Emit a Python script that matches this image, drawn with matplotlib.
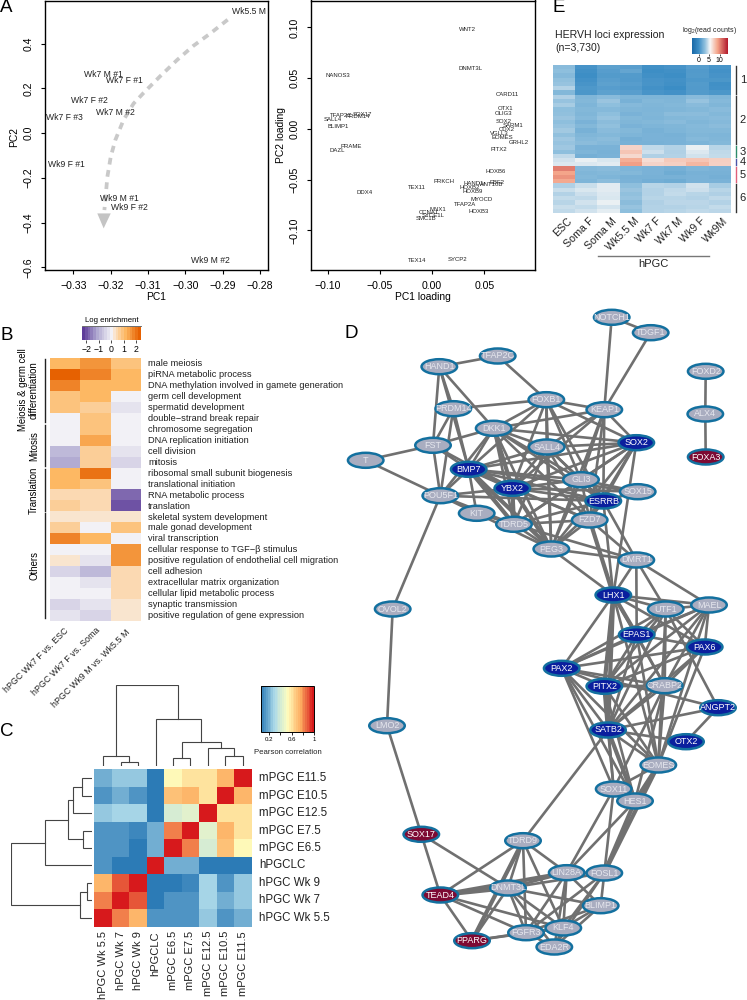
# figure panels: PCA, GO enrichment, correlation heatmap, gene network, HERVH heatmap
from itertools import combinations

import matplotlib
matplotlib.use('Agg')
import matplotlib.pyplot as plt
import numpy as np
from matplotlib.cm import ScalarMappable
from matplotlib.colors import LinearSegmentedColormap, Normalize
from matplotlib.patches import Ellipse, Polygon

plt.rcParams['font.family'] = ['Liberation Sans', 'DejaVu Sans']
plt.rcParams['mathtext.default'] = 'regular'

W, H = 747, 1000

# panel A left
pca_labels = ['Wk5.5 M', 'Wk7 M #1', 'Wk7 F #1', 'Wk7 F #2', 'Wk7 M #2', 'Wk7 F #3',
              'Wk9 F #1', 'Wk9 M #1', 'Wk9 F #2', 'Wk9 M #2']
pca_pc1 = [-0.2829, -0.3219, -0.3163, -0.3257, -0.3188, -0.3324, -0.3320, -0.3177, -0.3151, -0.2933]
pca_pc2 = [0.546, 0.260, 0.236, 0.144, 0.093, 0.070, -0.142, -0.292, -0.331, -0.570]
trend_x = [-0.2887, -0.2934, -0.2979, -0.3023, -0.3068, -0.3112, -0.3139, -0.3166, -0.3188,
           -0.3200, -0.3209, -0.3213, -0.3217]
trend_y = [0.507, 0.445, 0.390, 0.326, 0.254, 0.180, 0.132, 0.058, -0.032, -0.106, -0.195,
           -0.270, -0.344]
head_x = [-0.3236, -0.3200, -0.3219]
head_y = [-0.359, -0.359, -0.426]

# panel A right
load_genes = ['WNT2', 'DNMT3L', 'NANOS3', 'CARD11', 'OTX1', 'OLIG3', 'SOX2', 'SOX17', 'TFAP2C',
              'PRDM14', 'SALL4', 'BLIMP1', 'PRAME', 'DAZL', 'SARM1', 'CDX2', 'VGLL3', 'EOMES',
              'GRHL2', 'PITX2', 'HOXB6', 'EBF2', 'WNT10B', 'HAND1', 'HOXB2', 'HOXB9', 'PRKCH',
              'TEX11', 'DDX4', 'MYOCD', 'TFAP2A', 'HOXB3', 'MNX1', 'CCNA1', 'SYCE1L', 'SMC1B',
              'TEX14', 'SYCP2']
load_pc1 = [0.034, 0.0366, -0.0905, 0.0716, 0.0707, 0.068, 0.0682, -0.0671, -0.0868,
            -0.0708, -0.0947, -0.0899, -0.0775, -0.0912, 0.0777, 0.0712, 0.0643, 0.0675,
            0.0828, 0.064, 0.0608, 0.0624, 0.0563, 0.04, 0.0362, 0.0385, 0.0113,
            -0.0146, -0.0646, 0.0471, 0.0314, 0.0442, 0.0059, -0.0034, 0.001, -0.0062,
            -0.014, 0.0241]
load_pc2 = [0.0977, 0.0597, 0.0531, 0.0344, 0.02, 0.0157, 0.0069, 0.0144, 0.0134,
            0.0118, 0.0098, 0.0023, -0.0174, -0.0216, 0.003, -0.0003, -0.0046, -0.0085,
            -0.0134, -0.02, -0.0423, -0.0525, -0.0551, -0.0541, -0.058, -0.0616, -0.0521,
            -0.0574, -0.0623, -0.0695, -0.0744, -0.0813, -0.0797, -0.0823, -0.0856, -0.0879,
            -0.1298, -0.1289]

# panel B
go_terms = ['male meiosis', 'piRNA metabolic process', 'DNA methylation involved in gamete generation',
            'germ cell development', 'spermatid development', 'double\u2212strand break repair',
            'chromosome segregation', 'DNA replication initiation', 'cell division', 'mitosis',
            'ribosomal small subunit biogenesis', 'translational initiation', 'RNA metabolic process',
            'translation', 'skeletal system development', 'male gonad development', 'viral transcription',
            'cellular response to TGF\u2212\u03b2 stimulus', 'positive regulation of endothelial cell migration',
            'cell adhesion', 'extracellular matrix organization', 'cellular lipid metabolic process',
            'synaptic transmission', 'positive regulation of gene expression']
go_cols = ['hPGC Wk7 F vs. ESC', 'hPGC Wk7 F vs. Soma', 'hPGC Wk9 M vs. Wk5.5 M']
go_wk7_esc = [1.2, 2.2, 1.9, 0.9, 0.9, -0.1, -0.1, -0.1, -0.9, -1.1, 1.2, 1.2, 0.4, 0.7, 0.3, 0.7,
              1.7, -0.1, 0.3, -0.5, -0.1, -0.1, -0.5, -0.3]
go_wk7_soma = [1.5, 1.9, 1.2, 1.2, 0.6, 0.9, 0.9, 1.4, 0.7, 0.7, 2.0, 1.0, 0.4, 0.4, 0.3, 0.1,
               1.2, -0.1, -0.3, -1.0, -0.3, -0.1, -0.3, -0.5]
go_wk9_wk5 = [0.9, 1.2, 1.2, 0.1, -0.3, -0.1, -0.1, -0.1, -0.3, -0.5, -0.1, -0.1, -1.7, -2.1, 0.3,
              1.0, -0.1, 1.5, 1.5, 0.4, 0.4, 0.4, 0.2, 0.2]

# panel C
corr_cols = ['hPGC Wk 5.5', 'hPGC Wk 7', 'hPGC Wk 9', 'hPGCLC', 'mPGC E6.5', 'mPGC E7.5',
             'mPGC E12.5', 'mPGC E10.5', 'mPGC E11.5']
corr_rows = ['mPGC E11.5', 'mPGC E10.5', 'mPGC E12.5', 'mPGC E7.5', 'mPGC E6.5', 'hPGCLC',
             'hPGC Wk 9', 'hPGC Wk 7', 'hPGC Wk 5.5']
corr_vals = [[0.205, 0.257, 0.257, 0.05, 0.54, 0.60, 0.60, 0.74, 1.00],
             [0.145, 0.205, 0.145, 0.05, 0.70, 0.74, 0.60, 1.00, 0.74],
             [0.257, 0.30, 0.30, 0.05, 0.40, 0.45, 1.00, 0.60, 0.60],
             [0.145, 0.145, 0.11, 0.205, 0.81, 1.00, 0.45, 0.74, 0.60],
             [0.145, 0.145, 0.05, 0.205, 1.00, 0.81, 0.40, 0.70, 0.54],
             [0.145, 0.05, 0.05, 1.00, 0.205, 0.205, 0.05, 0.05, 0.05],
             [0.74, 0.895, 1.00, 0.05, 0.05, 0.11, 0.30, 0.145, 0.257],
             [0.81, 1.00, 0.895, 0.05, 0.145, 0.145, 0.30, 0.205, 0.257],
             [1.00, 0.81, 0.74, 0.145, 0.145, 0.145, 0.257, 0.145, 0.205]]
# merges: child a, child b, height (child index >= 9 is an earlier merge)
col_merges = [(1, 2, 0.053), (0, 9, 0.128), (4, 5, 0.099), (7, 8, 0.128), (6, 12, 0.218),
              (11, 13, 0.30), (3, 14, 0.576), (10, 15, 1.0)]
row_merges = [(0, 1, 0.123), (2, 9, 0.226), (3, 4, 0.111), (10, 11, 0.296), (5, 12, 0.576),
              (6, 7, 0.053), (8, 14, 0.14), (13, 15, 1.0)]

# panel D
node_names = ['NOTCH1', 'TDGF1', 'TFAP2C', 'HAND1', 'FOXD2', 'ALX4', 'FOXA3', 'FOXB1', 'KEAP1', 'PRDM14',
              'DKK1', 'SOX2', 'SALL4', 'FST', 'T', 'BMP7', 'GLI3', 'YBX2', 'SOX15', 'POU5F1',
              'ESRRB', 'KIT', 'TDRD5', 'FZD7', 'PEG3', 'DMRT1', 'LHX1', 'OVOL2', 'UTF1', 'MAEL',
              'EPAS1', 'PAX6', 'PAX2', 'PITX2', 'CRABP2', 'ANGPT2', 'LMO2', 'SATB2', 'OTX2', 'EOMES',
              'SOX11', 'HES1', 'SOX17', 'TDRD9', 'LIN28A', 'FOSL1', 'DNMT3L', 'TEAD4', 'BLIMP1', 'KLF4',
              'FGFR3', 'PPARG', 'EDA2R']
node_x = [611.7, 650.7, 497.7, 439.3, 705.7, 705.3, 705.7, 546.3, 604.3, 453.3,
          493.7, 636.3, 546.7, 433, 365.7, 468.7, 581, 512.3, 637.7, 440.3,
          603.3, 476.7, 514, 589.7, 551.3, 636.3, 613.3, 392.7, 665.7, 709,
          636.7, 704.7, 561.7, 604.3, 664.7, 718, 387, 608, 686, 658.3,
          613.7, 635, 421.3, 523, 566.7, 604.3, 508, 440.3, 600.7, 563.3,
          526, 472, 554.3]
node_y = [317.3, 332.7, 356, 366.7, 371.3, 414, 457, 399.7, 409.7, 408.7,
          428.3, 442.7, 447, 445.3, 460.3, 469.3, 479.7, 488.3, 491.7, 495.7,
          501, 513.3, 524.3, 520, 549, 560, 595, 609, 609, 605,
          634.7, 647, 668.3, 686.3, 685.7, 707.7, 725.7, 730, 741.7, 765,
          789, 801, 834.3, 840.7, 872.7, 873, 888, 895, 905.7, 928,
          932.7, 940.7, 947]
blue_nodes = ['BMP7', 'YBX2', 'SOX2', 'ESRRB', 'LHX1', 'EPAS1', 'PAX6', 'PAX2', 'PITX2', 'ANGPT2', 'SATB2', 'OTX2']
red_nodes = ['FOXA3', 'SOX17', 'TEAD4', 'PPARG']
upper_core = ['DKK1', 'SALL4', 'SOX2', 'BMP7', 'GLI3', 'YBX2', 'ESRRB', 'FZD7', 'TDRD5', 'PEG3']
middle_core = ['LHX1', 'EPAS1', 'PAX2', 'PITX2', 'CRABP2', 'SATB2', 'PAX6', 'UTF1', 'MAEL', 'EOMES']
lower_core = ['DNMT3L', 'LIN28A', 'FOSL1', 'BLIMP1', 'KLF4', 'FGFR3', 'EDA2R']
edge_text = """NOTCH1-TDGF1 NOTCH1-KEAP1 TDGF1-KEAP1 HAND1-TFAP2C TFAP2C-FOXB1 HAND1-PRDM14 HAND1-FST HAND1-DKK1
HAND1-BMP7 PRDM14-FOXB1 PRDM14-FST PRDM14-BMP7 PRDM14-POU5F1 FST-T T-POU5F1 FST-BMP7 FST-DKK1 FST-POU5F1
FST-YBX2 POU5F1-OVOL2 OVOL2-LMO2 LMO2-SOX17 SOX17-TEAD4 SOX17-DNMT3L FOXD2-ALX4 ALX4-FOXA3
FOXB1-KEAP1 FOXB1-SALL4 FOXB1-GLI3 FOXB1-BMP7 FOXB1-YBX2 FOXB1-ESRRB FOXB1-PEG3 FOXB1-SOX2 FOXB1-DKK1
KEAP1-DKK1 KEAP1-SOX2 KEAP1-GLI3 KEAP1-ESRRB KEAP1-YBX2 KEAP1-SALL4 KEAP1-FZD7 KEAP1-PEG3
POU5F1-BMP7 POU5F1-YBX2 POU5F1-KIT POU5F1-DKK1 POU5F1-ESRRB POU5F1-TDRD5 KIT-TDRD5 KIT-BMP7 KIT-PEG3
SOX15-ESRRB SOX15-BMP7 SOX15-YBX2 SOX15-GLI3 SOX2-LHX1 ESRRB-DMRT1 ESRRB-LHX1 PEG3-LHX1 PEG3-DMRT1
DMRT1-LHX1 TDRD5-DMRT1 FZD7-DMRT1 DMRT1-UTF1 DMRT1-MAEL DMRT1-EPAS1 ANGPT2-PAX2 ANGPT2-SATB2 ANGPT2-OTX2
ANGPT2-UTF1 OTX2-SATB2 CRABP2-SOX11 CRABP2-HES1 SATB2-SOX11 PAX2-SOX11 PAX2-HES1 PITX2-SOX11 PITX2-HES1
EOMES-SOX11 SOX11-LIN28A SOX11-FOSL1 SOX11-HES1 HES1-LIN28A SATB2-TDRD9 TDRD9-TEAD4 TDRD9-DNMT3L
TDRD9-LIN28A TDRD9-FGFR3 TDRD9-KLF4 TEAD4-FGFR3 TEAD4-KLF4 TEAD4-PPARG PPARG-DNMT3L PPARG-FGFR3 PPARG-KLF4"""
thick_text = """FZD7-LHX1 SATB2-HES1 PITX2-SATB2 EOMES-HES1 EOMES-FOSL1 HES1-FOSL1 TDRD9-PPARG TEAD4-DNMT3L
TEAD4-LIN28A YBX2-TDRD5 YBX2-PEG3 BMP7-PEG3 BMP7-TDRD5 DKK1-YBX2 LHX1-SATB2 LHX1-EPAS1 PITX2-LHX1 BMP7-YBX2"""

# panel E
ervh_cols = ['ESC', 'Soma F', 'Soma M', 'Wk5.5 M', 'Wk7 F', 'Wk7 M', 'Wk9 F', 'Wk9M']
ervh_vals = [[2.8, 0.4, 1.2, 1.1, 0.2, 0.4, 1.0, 0.5],
             [3.0, 0.2, 1.0, 1.5, 0.1, 0.2, 0.8, 0.3],
             [2.7, 0.1, 0.9, 0.9, 0.2, 0.1, 0.9, 0.4],
             [3.1, 0.3, 1.1, 0.8, 0.4, 0.3, 0.7, 0.6],
             [3.2, 0.5, 1.2, 1.0, 0.5, 0.2, 0.9, 0.2],
             [3.9, 0.7, 1.0, 0.8, 0.3, 0.0, 0.8, 0.3],
             [2.6, 0.6, 1.2, 1.1, 0.5, 0.3, 0.9, 0.6],
             [3.8, 2.5, 2.8, 2.4, 2.4, 2.4, 2.8, 2.5],
             [3.2, 2.6, 3.3, 2.2, 2.6, 2.5, 3.2, 2.7],
             [3.6, 2.4, 3.0, 2.7, 2.5, 2.6, 2.8, 2.5],
             [3.0, 2.6, 2.7, 2.5, 2.4, 2.5, 2.6, 2.8],
             [3.1, 2.5, 3.0, 2.3, 2.5, 2.9, 2.9, 2.6],
             [3.3, 2.7, 3.2, 2.6, 2.4, 2.6, 2.7, 2.8],
             [3.0, 2.3, 2.9, 2.5, 2.6, 2.8, 2.5, 2.7],
             [3.2, 2.6, 3.1, 2.3, 2.4, 2.5, 2.7, 2.9],
             [3.5, 2.2, 2.8, 2.6, 2.2, 2.4, 2.6, 2.6],
             [3.1, 2.5, 2.6, 2.4, 2.3, 2.2, 2.5, 2.4],
             [3.4, 2.7, 2.9, 2.1, 2.3, 2.3, 2.7, 2.5],
             [3.2, 2.9, 2.7, 2.2, 2.2, 2.3, 2.4, 2.6],
             [3.4, 2.3, 2.3, 7.0, 4.2, 3.9, 5.2, 4.0],
             [3.0, 2.4, 2.2, 7.6, 4.5, 3.8, 4.9, 4.2],
             [4.2, 2.1, 2.3, 6.8, 3.8, 3.9, 4.6, 4.3],
             [4.6, 5.2, 4.8, 8.6, 6.6, 7.4, 7.6, 7.2],
             [4.9, 4.9, 5.0, 9.2, 7.0, 7.2, 8.2, 7.1],
             [10.4, 2.7, 2.8, 2.4, 2.3, 2.1, 2.4, 2.3],
             [9.0, 2.5, 2.6, 2.6, 2.3, 1.9, 2.2, 2.2],
             [9.6, 2.6, 2.4, 2.2, 2.2, 2.2, 2.3, 2.1],
             [8.8, 2.4, 2.9, 2.3, 2.0, 1.9, 2.3, 2.3],
             [3.8, 4.4, 5.0, 3.0, 4.0, 3.9, 4.6, 3.6],
             [4.4, 4.8, 5.0, 3.3, 3.9, 4.2, 4.5, 4.0],
             [3.9, 4.5, 4.9, 3.1, 3.9, 4.3, 4.0, 3.8],
             [4.3, 4.2, 4.8, 3.2, 4.0, 4.0, 3.9, 4.2],
             [4.0, 4.6, 5.2, 2.9, 3.8, 4.1, 4.1, 3.9],
             [4.4, 4.3, 4.7, 3.2, 3.9, 3.9, 4.0, 4.3],
             [4.2, 4.6, 5.1, 3.0, 3.9, 4.0, 4.2, 4.1]]
ervh_groups = ['1', '2', '3', '4', '5', '6']
ervh_sizes = [7, 12, 3, 2, 4, 7]
ervh_bar_colors = ['#333333', '#333333', '#2e8b6a', '#4a55a8', '#e0607a', '#333333']


def ax_px(left, top, right, bottom):
    return fig.add_axes([left / W, 1 - bottom / H, (right - left) / W, (bottom - top) / H])


def r_style(ax):
    for s in ax.spines.values():
        s.set_linewidth(1.0)
    ax.tick_params(length=3, width=0.8, labelsize=7.6, pad=5)
    for lab in ax.get_yticklabels():
        lab.set_rotation(90)
        lab.set_va('center')


def draw_dendro(ax, merges, n, vertical):
    pos = [i + 0.5 for i in range(n)]
    hgt = [0.0] * n
    for a, b, h in merges:
        xs = [pos[a], pos[a], pos[b], pos[b]]
        ys = [hgt[a], h, h, hgt[b]]
        if vertical:
            ax.plot(xs, ys, color='#444444', lw=0.8, solid_joinstyle='miter')
        else:
            ax.plot(ys, xs, color='#444444', lw=0.8, solid_joinstyle='miter')
        pos.append((pos[a] + pos[b]) / 2)
        hgt.append(h)
    ax.axis('off')


fig = plt.figure(figsize=(W / 100, H / 100), dpi=100)

# overlay in pixel coordinates for free text and the network
pg = fig.add_axes([0, 0, 1, 1], zorder=5)
pg.set_xlim(0, W)
pg.set_ylim(H, 0)
pg.axis('off')
pg.patch.set_alpha(0)

for lab, x, y in [('A', 0, 8), ('B', 0, 335), ('C', 0, 732), ('D', 344, 334), ('E', 552, 7)]:
    pg.text(x, y, lab, fontsize=13.5, ha='left', va='center')

# A left
ax = ax_px(45, 0.5, 268, 270)
ax.set_xlim(-0.3376, -0.2779)
ax.set_ylim(-0.612, 0.593)
ax.plot(trend_x, trend_y, color='#c9c9c9', lw=2.7, dashes=(1.8, 1.5))
ax.add_patch(Polygon(np.column_stack([head_x, head_y]), closed=True, color='#c4c4c4', lw=0))
for lab, x, y in zip(pca_labels, pca_pc1, pca_pc2):
    ax.text(x, y, lab, fontsize=6.2, ha='center', va='center', color='#222222')
ax.set_xticks([-0.33, -0.32, -0.31, -0.30, -0.29, -0.28])
ax.set_xticklabels(['\u22120.33', '\u22120.32', '\u22120.31', '\u22120.30', '\u22120.29', '\u22120.28'])
ax.set_yticks([-0.6, -0.4, -0.2, 0.0, 0.2, 0.4])
r_style(ax)
pg.text(156, 297, 'PC1', fontsize=7.4, ha='center', va='center')
pg.text(14, 137, 'PC2', fontsize=7.4, ha='center', va='center', rotation=90)

# A right
ax = ax_px(311, 0.5, 535, 270)
ax.set_xlim(-0.116, 0.0985)
ax.set_ylim(-0.139, 0.1266)
for lab, x, y in zip(load_genes, load_pc1, load_pc2):
    ax.text(x, y, lab, fontsize=4.3, ha='center', va='center', color='#222222')
ax.set_xticks([-0.10, -0.05, 0.0, 0.05])
ax.set_xticklabels(['\u22120.10', '\u22120.05', '0.00', '0.05'])
ax.set_yticks([-0.10, -0.05, 0.0, 0.05, 0.10])
ax.set_yticklabels(['\u22120.10', '\u22120.05', '0.00', '0.05', '0.10'])
r_style(ax)
pg.text(423, 297, 'PC1 loading', fontsize=7.4, ha='center', va='center')
pg.text(281, 135, 'PC2 loading', fontsize=7.4, ha='center', va='center', rotation=90)

# B
puor = LinearSegmentedColormap.from_list(
    'puor', [(0.0, '#5e3c99'), (0.25, '#b2abd2'), (0.5, '#f2f1f6'), (0.56, '#fbe3c8'),
             (0.75, '#fdb863'), (1.0, '#e66101')], N=21)
norm_b = Normalize(-2.35, 2.35)
ax = ax_px(50, 358.3, 141, 621)
ax.imshow(np.column_stack([go_wk7_esc, go_wk7_soma, go_wk9_wk5]), cmap=puor, norm=norm_b,
          aspect='auto', interpolation='nearest')
ax.axis('off')
row_h = (621 - 358.3) / len(go_terms)
for i, term in enumerate(go_terms):
    pg.text(148, 358.3 + (i + 0.5) * row_h, term, fontsize=6.65, ha='left', va='center', color='#222222')
for lab, x, y in zip(go_cols, [64, 95, 125], [626, 626, 628]):
    pg.text(x, y, lab, fontsize=6.4, rotation=45, ha='right', va='top', rotation_mode='anchor', color='#222222')
for y0, y1 in [(359, 422), (425, 466), (469, 511), (513, 618)]:
    pg.plot([45, 45], [y0, y1], color='#222222', lw=1.0)
pg.text(23, 390, 'Meiosis & germ cell', fontsize=6.9, rotation=90, ha='center', va='center')
pg.text(34, 390, 'differentiation', fontsize=6.9, rotation=90, ha='center', va='center')
pg.text(34, 446, 'Mitosis', fontsize=6.9, rotation=90, ha='center', va='center')
pg.text(34, 490, 'Translation', fontsize=6.9, rotation=90, ha='center', va='center')
pg.text(34, 565, 'Others', fontsize=6.9, rotation=90, ha='center', va='center')
cax = ax_px(82, 326.5, 140.7, 340)
cb = fig.colorbar(ScalarMappable(norm=norm_b, cmap=puor), cax=cax, orientation='horizontal')
cb.outline.set_visible(False)
cb.set_ticks([-2, -1, 0, 1, 2])
cb.set_ticklabels(['\u22122', '\u22121', '0', '1', '2'])
cax.tick_params(length=2, width=0.5, labelsize=6.3, pad=1.5)
pg.text(111.5, 321, 'Log enrichment', fontsize=5.6, ha='center', va='center')
pg.plot([82, 140.7], [325.5, 325.5], color='#555555', lw=0.6)

# C
rdylbu = LinearSegmentedColormap.from_list(
    'rdylbu', ['#2c7bb6', '#abd9e9', '#ffffbf', '#fdae61', '#d7191c'], N=30)
norm_c = Normalize(0.05, 1.0)
ax = ax_px(94.3, 769.3, 251.7, 926.7)
ax.imshow(np.array(corr_vals), cmap=rdylbu, norm=norm_c, aspect='auto', interpolation='nearest')
ax.axis('off')
cell = (251.7 - 94.3) / 9
for i, lab in enumerate(corr_rows):
    pg.text(259, 769.3 + (i + 0.5) * cell, lab, fontsize=8.3, ha='left', va='center', color='#222222')
for i, lab in enumerate(corr_cols):
    pg.text(94.3 + (i + 0.5) * cell, 931, lab, fontsize=8.0, rotation=90, ha='center', va='top', color='#222222')
ax = ax_px(94.3, 685, 251.7, 766)
ax.set_xlim(0, 9)
ax.set_ylim(0, 1)
draw_dendro(ax, col_merges, 9, True)
ax = ax_px(10.7, 769.3, 91.7, 926.7)
ax.set_xlim(1, 0)
ax.set_ylim(9, 0)
draw_dendro(ax, row_merges, 9, False)
cax = ax_px(260.7, 686, 314, 732.3)
cb = fig.colorbar(ScalarMappable(norm=norm_c, cmap=rdylbu), cax=cax, orientation='horizontal')
cb.outline.set_linewidth(0.7)
cb.set_ticks([0.2, 0.4, 0.6, 0.8, 1.0])
cb.set_ticklabels(['0.2', '', '0.6', '', '1'])
cax.tick_params(length=2, width=0.6, labelsize=4.4, pad=1.5)
pg.text(288, 752, 'Pearson correlation', fontsize=5.6, ha='center', va='center', color='#222222')

# D
nx = dict(zip(node_names, node_x))
ny = dict(zip(node_names, node_y))
thick = [tuple(e.split('-')) for e in thick_text.split()]
edges = [tuple(e.split('-')) for e in edge_text.split()]
for group in (upper_core, middle_core, lower_core):
    edges += list(combinations(group, 2))
for a, b in edges:
    pg.plot([nx[a], nx[b]], [ny[a], ny[b]], color='#707070', lw=1.9, zorder=2)
for a, b in thick:
    pg.plot([nx[a], nx[b]], [ny[a], ny[b]], color='#707070', lw=3.0, zorder=2)
for name in node_names:
    face = '#0b1f9e' if name in blue_nodes else '#7d0a33' if name in red_nodes else '#a9adc0'
    tc = 'white' if name in blue_nodes or name in red_nodes else '#e6e7ee'
    pg.add_patch(Ellipse((nx[name], ny[name]), 35.5, 15, facecolor=face, edgecolor='#13709f', lw=1.8, zorder=3))
    pg.text(nx[name], ny[name], name, fontsize=6.5, color=tc, ha='center', va='center', zorder=4)

# E
rdbu = LinearSegmentedColormap.from_list(
    'rdbu', [(0.0, '#1a6aa8'), (3 / 17, '#3c8dc5'), (6 / 17, '#8fbfdd'), (8.5 / 17, '#f7f7f7'),
             (12 / 17, '#f4a58a'), (1.0, '#b2182b')])
norm_e = Normalize(-3, 14)
ax = ax_px(552.7, 65, 730.7, 212.7)
ax.imshow(np.array(ervh_vals), cmap=rdbu, norm=norm_e, aspect='auto', interpolation='nearest')
ax.axis('off')
n_rows = len(ervh_vals)
rh = (212.7 - 65) / n_rows
start = 0
for lab, size, col in zip(ervh_groups, ervh_sizes, ervh_bar_colors):
    y0 = 65 + start * rh
    y1 = 65 + (start + size) * rh
    pg.plot([735.7, 735.7], [y0 + 1, y1 - 1], color=col, lw=1.0)
    pg.text(743, (y0 + y1) / 2, lab, fontsize=8, ha='center', va='center', color='#222222')
    start += size
cw = (730.7 - 552.7) / 8
for i, lab in enumerate(ervh_cols):
    pg.text(552.7 + (i + 0.5) * cw + 3, 216, lab, fontsize=7.7, rotation=45, ha='right', va='top',
            rotation_mode='anchor', color='#222222')
pg.plot([598, 709], [255.7, 255.7], color='#777777', lw=1.0)
pg.text(653, 264, 'hPGC', fontsize=8, ha='center', va='center', color='#222222')
pg.text(555, 35, 'HERVH loci expression', fontsize=7.6, ha='left', va='center', color='#222222')
pg.text(555, 48, '(n=3,730)', fontsize=7.6, ha='left', va='center', color='#222222')
cax = ax_px(692.3, 38, 728, 53.7)
cb = fig.colorbar(ScalarMappable(norm=norm_e, cmap=rdbu), cax=cax, orientation='horizontal')
cb.outline.set_visible(False)
cb.set_ticks([0, 5, 10])
cax.tick_params(length=1.5, width=0.5, labelsize=5, pad=1)
pg.text(710, 31, 'log$_2$(read counts)', fontsize=5, ha='center', va='center', color='#222222')

fig.savefig('out.png', dpi=100)
